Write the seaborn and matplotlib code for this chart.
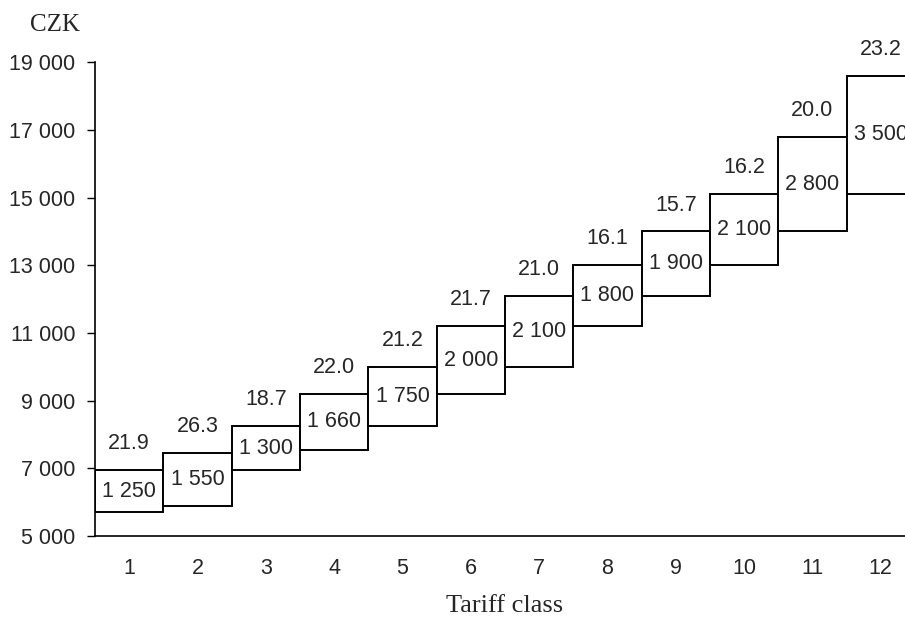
import numpy as np
import pandas as pd
import matplotlib
matplotlib.use("Agg")
import matplotlib.pyplot as plt
import seaborn as sns

# Data (CZK)
tariff_class = [1, 2, 3, 4, 5, 6, 7, 8, 9, 10, 11, 12]
low = [5700, 5900, 6950, 7550, 8250, 9200, 10000, 11200, 12100, 13000, 14000, 15100]
spread = [1250, 1550, 1300, 1660, 1750, 2000, 2100, 1800, 1900, 2100, 2800, 3500]
pct = [21.9, 26.3, 18.7, 22.0, 21.2, 21.7, 21.0, 16.1, 15.7, 16.2, 20.0, 23.2]

df = pd.DataFrame({"cls": tariff_class, "low": low, "spread": spread, "pct": pct})
df["high"] = df["low"] + df["spread"]

sns.set_theme(style="white")
plt.rcParams["font.family"] = ["Liberation Sans", "DejaVu Sans"]
SERIF = ["Liberation Serif", "DejaVu Serif"]
FS = 15.5

fig = plt.figure(figsize=(9.05, 6.22), dpi=100)
ax = fig.add_axes([0.105, 0.138, 0.906, 0.762])

sns.barplot(data=df, x="cls", y="spread", bottom=df["low"].values, native_scale=True,
            width=1.0, color="white", edgecolor="black", linewidth=1.4,
            errorbar=None, ax=ax, zorder=2)

fmt = lambda v: f"{v:,.0f}".replace(",", " ")

for _, r in df.iterrows():
    mid = (r["low"] + r["high"]) / 2
    ax.text(r["cls"], mid, fmt(r["spread"]), ha="center", va="center",
            fontsize=FS, zorder=3)
    ax.annotate(f"{r['pct']:.1f}", (r["cls"], r["high"]), xytext=(0, 19),
                textcoords="offset points", ha="center", va="center",
                fontsize=FS, annotation_clip=False)

ax.set_xlim(0.5, 12.5)
ax.set_ylim(5000, 19000)
ax.set_yticks(range(5000, 19001, 2000))
ax.set_yticklabels([fmt(v) for v in range(5000, 19001, 2000)], fontsize=FS)
ax.set_xticks(tariff_class)
ax.set_xticklabels([str(c) for c in tariff_class], fontsize=FS)
ax.set_xticks(np.arange(0.5, 12.6, 1.0), minor=True)
ax.tick_params(axis="x", which="major", length=0, pad=16)
ax.tick_params(axis="x", which="minor", length=5, width=1, direction="out", color="black")
ax.tick_params(axis="y", length=6, width=1, direction="out", color="black", pad=8, left=True)

ax.set_xlabel("Tariff class", family=SERIF, fontsize=19, labelpad=11)
ax.set_ylabel("")
ax.text(-0.049, 1.078, "CZK", transform=ax.transAxes, ha="center", va="center",
        family=SERIF, fontsize=18)

sns.despine(ax=ax)
for s in ["left", "bottom"]:
    ax.spines[s].set_color("black")
    ax.spines[s].set_linewidth(1.2)
ax.grid(False)

fig.savefig("out.png", dpi=100)
plt.close(fig)
